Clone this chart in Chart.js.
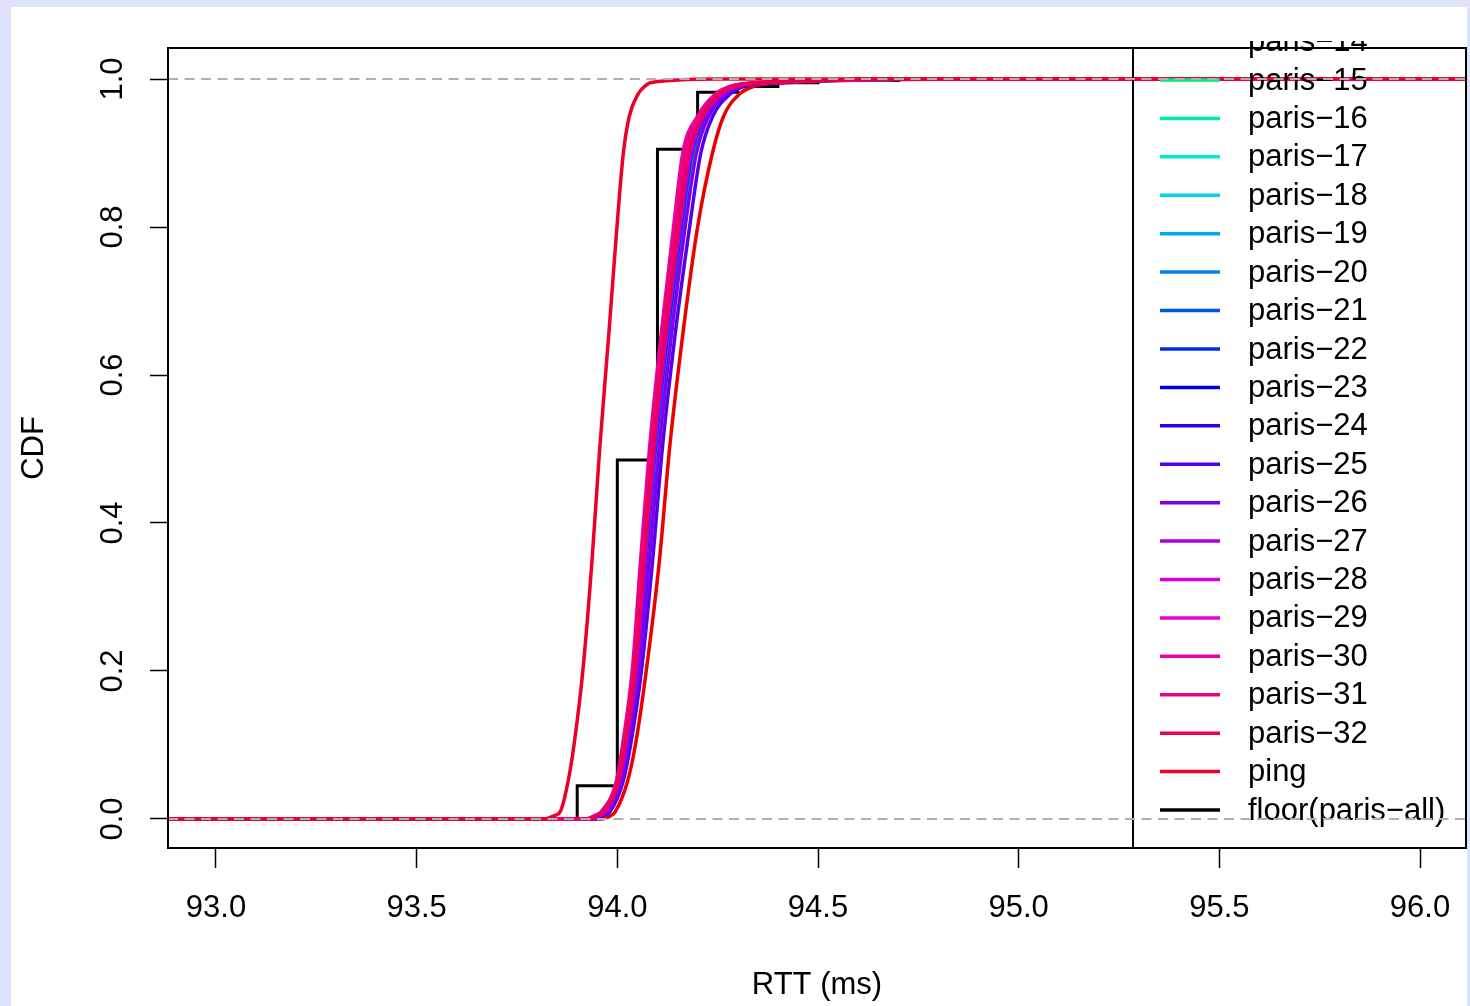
<!DOCTYPE html>
<html>
<head>
<meta charset="utf-8">
<script src="https://cdn.jsdelivr.net/npm/chart.js@4.4.1/dist/chart.umd.min.js"></script>
<style>
  html, body { margin: 0; padding: 0; background: #dee2fa; }
  #panel { position: absolute; left: 11px; top: 7px; width: 1456px; height: 999px; background: #fff; }
  canvas { display: block; }
</style>
</head>
<body>
<div id="panel"><canvas id="cdfChart" width="1456" height="999"></canvas></div>
<script>
// CDF levels shared by every smooth curve (quantiles)
const cdfLevels = [0, 0.005, 0.01, 0.05, 0.1, 0.2, 0.35, 0.5, 0.65, 0.8, 0.9, 0.95, 0.98, 0.99, 0.995, 1];

// RTT (ms) at each CDF level, one array per paris flow
const paris1  = [93.960, 93.985, 93.995, 94.025, 94.045, 94.072, 94.105, 94.130, 94.162, 94.200, 94.237, 94.265, 94.305, 94.340, 94.420, 94.90];
const paris2  = [93.938, 93.960, 93.975, 94.008, 94.025, 94.050, 94.075, 94.098, 94.128, 94.163, 94.190, 94.222, 94.268, 94.300, 94.380, 94.85];
const paris3  = [93.933, 93.956, 93.970, 94.004, 94.020, 94.046, 94.070, 94.093, 94.122, 94.157, 94.183, 94.217, 94.262, 94.295, 94.370, 94.82];
const paris4  = [93.930, 93.953, 93.968, 94.002, 94.019, 94.044, 94.067, 94.090, 94.119, 94.153, 94.180, 94.214, 94.258, 94.292, 94.365, 94.80];
const paris5  = [93.937, 93.959, 93.974, 94.007, 94.024, 94.050, 94.074, 94.097, 94.127, 94.162, 94.189, 94.221, 94.266, 94.301, 94.382, 94.84];
const paris6  = [93.936, 93.959, 93.973, 94.006, 94.024, 94.050, 94.074, 94.097, 94.127, 94.162, 94.189, 94.221, 94.266, 94.300, 94.381, 94.84];
const paris7  = [93.928, 93.951, 93.966, 94.000, 94.017, 94.042, 94.064, 94.087, 94.116, 94.150, 94.176, 94.210, 94.255, 94.290, 94.360, 94.80];
const paris8  = [93.936, 93.958, 93.973, 94.006, 94.023, 94.049, 94.073, 94.096, 94.126, 94.161, 94.188, 94.220, 94.265, 94.300, 94.380, 94.84];
const paris9  = [93.925, 93.949, 93.964, 93.999, 94.015, 94.040, 94.062, 94.084, 94.112, 94.145, 94.170, 94.205, 94.250, 94.285, 94.355, 94.78];
const paris10 = [93.934, 93.957, 93.971, 94.005, 94.021, 94.047, 94.071, 94.094, 94.124, 94.159, 94.186, 94.219, 94.264, 94.298, 94.375, 94.83];
const paris11 = [93.931, 93.954, 93.969, 94.003, 94.020, 94.045, 94.068, 94.091, 94.120, 94.155, 94.182, 94.215, 94.260, 94.294, 94.368, 94.81];
const paris12 = [93.937, 93.959, 93.974, 94.007, 94.024, 94.050, 94.074, 94.097, 94.127, 94.162, 94.189, 94.221, 94.266, 94.301, 94.382, 94.84];
const paris13 = [93.927, 93.950, 93.965, 94.000, 94.016, 94.041, 94.063, 94.086, 94.114, 94.148, 94.174, 94.208, 94.253, 94.288, 94.358, 94.79];
const paris14 = [93.932, 93.955, 93.970, 94.004, 94.021, 94.046, 94.069, 94.092, 94.121, 94.156, 94.184, 94.216, 94.261, 94.296, 94.372, 94.82];
const paris15 = [93.929, 93.952, 93.967, 94.001, 94.018, 94.043, 94.066, 94.089, 94.118, 94.152, 94.178, 94.212, 94.257, 94.291, 94.362, 94.80];
const paris16 = [93.935, 93.957, 93.972, 94.005, 94.022, 94.048, 94.072, 94.095, 94.125, 94.160, 94.187, 94.220, 94.265, 94.299, 94.378, 94.84];
const paris17 = [93.926, 93.950, 93.965, 93.999, 94.016, 94.041, 94.063, 94.085, 94.113, 94.147, 94.172, 94.206, 94.252, 94.287, 94.357, 94.79];
const paris18 = [93.933, 93.956, 93.971, 94.004, 94.021, 94.047, 94.070, 94.093, 94.123, 94.158, 94.185, 94.218, 94.263, 94.297, 94.374, 94.83];
const paris19 = [93.930, 93.953, 93.968, 94.002, 94.019, 94.044, 94.067, 94.090, 94.119, 94.154, 94.181, 94.214, 94.259, 94.293, 94.366, 94.81];
const paris20 = [93.936, 93.958, 93.973, 94.006, 94.023, 94.049, 94.073, 94.096, 94.126, 94.161, 94.188, 94.221, 94.266, 94.300, 94.380, 94.84];
const paris21 = [93.928, 93.951, 93.966, 94.000, 94.017, 94.042, 94.065, 94.088, 94.117, 94.151, 94.177, 94.211, 94.256, 94.290, 94.360, 94.80];
const paris22 = [93.934, 93.957, 93.971, 94.005, 94.022, 94.047, 94.071, 94.094, 94.124, 94.159, 94.186, 94.219, 94.264, 94.298, 94.376, 94.83];
const paris23 = [93.931, 93.954, 93.969, 94.003, 94.020, 94.045, 94.068, 94.091, 94.121, 94.155, 94.182, 94.215, 94.260, 94.294, 94.368, 94.81];
const paris24 = [93.933, 93.956, 93.970, 94.004, 94.021, 94.046, 94.070, 94.093, 94.122, 94.157, 94.184, 94.217, 94.262, 94.296, 94.372, 94.82];
const paris25 = [93.944, 93.968, 93.982, 94.014, 94.033, 94.060, 94.088, 94.112, 94.143, 94.180, 94.208, 94.238, 94.282, 94.316, 94.395, 94.86];
const paris26 = [93.939, 93.962, 93.976, 94.009, 94.027, 94.054, 94.080, 94.104, 94.134, 94.169, 94.197, 94.228, 94.272, 94.306, 94.388, 94.85];
const paris27 = [93.933, 93.956, 93.970, 94.004, 94.021, 94.047, 94.070, 94.093, 94.122, 94.157, 94.184, 94.217, 94.262, 94.297, 94.372, 94.82];
const paris28 = [93.928, 93.951, 93.966, 94.001, 94.017, 94.042, 94.064, 94.087, 94.116, 94.150, 94.175, 94.210, 94.255, 94.290, 94.362, 94.80];
const paris29 = [93.925, 93.949, 93.963, 93.999, 94.015, 94.040, 94.061, 94.084, 94.112, 94.145, 94.170, 94.206, 94.250, 94.286, 94.356, 94.80];
const paris30 = [93.920, 93.945, 93.960, 93.997, 94.013, 94.037, 94.058, 94.080, 94.108, 94.140, 94.163, 94.200, 94.245, 94.280, 94.350, 94.80];
const paris31 = [93.923, 93.947, 93.962, 93.998, 94.014, 94.039, 94.060, 94.083, 94.111, 94.144, 94.168, 94.204, 94.249, 94.284, 94.354, 94.80];
const paris32 = [93.930, 93.953, 93.967, 94.002, 94.019, 94.044, 94.066, 94.089, 94.118, 94.152, 94.178, 94.212, 94.257, 94.292, 94.364, 94.81];

const pingRtt = [93.815, 93.845, 93.858, 93.877, 93.892, 93.914, 93.937, 93.956, 93.978, 93.999, 94.015, 94.030, 94.052, 94.068, 94.082, 94.25];

// floor(paris-all): step CDF
const floorRtt = [93.9, 94.0, 94.1, 94.2, 94.3, 94.4, 94.5, 94.7];
const floorCdf = [0.045, 0.485, 0.905, 0.982, 0.990, 0.995, 0.998, 1.0];

const xTicks = [93.0, 93.5, 94.0, 94.5, 95.0, 95.5, 96.0];
const yTicks = [0.0, 0.2, 0.4, 0.6, 0.8, 1.0];
const refLevels = [0, 1];   // dashed guide lines
const rttMin = 92.8, rttMax = 96.2;  // ecdf plateaus run past the axes

const parisSeries = [paris1, paris2, paris3, paris4, paris5, paris6, paris7, paris8, paris9, paris10,
  paris11, paris12, paris13, paris14, paris15, paris16, paris17, paris18, paris19, paris20,
  paris21, paris22, paris23, paris24, paris25, paris26, paris27, paris28, paris29, paris30,
  paris31, paris32];

// R rainbow(33): paris-1..32 then ping
const nColors = parisSeries.length + 1;
const rainbow = i => `hsl(${(i / nColors) * 360}, 100%, 46%)`;

function curve(rtts) {
  const pts = [{x: rttMin, y: 0}];
  rtts.forEach((r, i) => pts.push({x: r, y: cdfLevels[i]}));
  pts.push({x: rttMax, y: 1});
  return pts;
}

const datasets = [];
parisSeries.forEach((s, i) => {
  datasets.push({
    label: 'paris\u2212' + (i + 1),
    data: curve(s),
    borderColor: rainbow(i),
    borderWidth: 3.5,
    cubicInterpolationMode: 'monotone',
    order: 33 - i
  });
});
datasets.push({
  label: 'ping',
  data: curve(pingRtt),
  borderColor: rainbow(parisSeries.length),
  borderWidth: 3.5,
  cubicInterpolationMode: 'monotone',
  order: 1
});
const floorPts = [{x: rttMin, y: 0}];
floorRtt.forEach((r, i) => floorPts.push({x: r, y: floorCdf[i]}));
floorPts.push({x: rttMax, y: 1});
datasets.push({
  label: 'floor(paris\u2212all)',
  data: floorPts,
  borderColor: '#000',
  borderWidth: 3,
  stepped: true,
  order: 40
});

// legend (clipped by the plot region like the R original), guides and frame
const overlay = {
  id: 'overlay',
  afterDatasetsDraw(chart) {
    const {ctx, chartArea: a, scales: {y}} = chart;
    const w = a.right - a.left, h = a.bottom - a.top;
    const boxLeft = a.right - 333;
    const rowH = 38.42;
    const items = chart.data.datasets;

    ctx.save();
    ctx.beginPath();
    ctx.rect(a.left, a.top, w, h);
    ctx.clip();
    ctx.strokeStyle = '#000';
    ctx.lineWidth = 2;
    ctx.beginPath();
    ctx.moveTo(boxLeft, a.top);
    ctx.lineTo(boxLeft, a.bottom);
    ctx.stroke();
    items.forEach((d, k) => {
      const ry = a.bottom - 38 - (items.length - 1 - k) * rowH;
      ctx.strokeStyle = d.borderColor;
      ctx.lineWidth = 3.5;
      ctx.beginPath();
      ctx.moveTo(boxLeft + 27, ry);
      ctx.lineTo(boxLeft + 87, ry);
      ctx.stroke();
    });
    ctx.restore();

    ctx.save();
    ctx.beginPath();
    ctx.rect(a.left, a.top - 7, w, h + 7);
    ctx.clip();
    ctx.fillStyle = '#000';
    ctx.font = '31px "Liberation Sans", Arial, sans-serif';
    ctx.textBaseline = 'middle';
    ctx.textAlign = 'left';
    items.forEach((d, k) => {
      const ry = a.bottom - 38 - (items.length - 1 - k) * rowH;
      ctx.fillText(d.label, boxLeft + 115, ry + 1);
    });
    ctx.restore();

    ctx.save();
    ctx.strokeStyle = '#b0b0b0';
    ctx.lineWidth = 2;
    ctx.setLineDash([10, 6.5]);
    refLevels.forEach(v => {
      const py = y.getPixelForValue(v);
      ctx.beginPath();
      ctx.moveTo(a.left, py);
      ctx.lineTo(a.right, py);
      ctx.stroke();
    });
    ctx.setLineDash([]);
    ctx.strokeStyle = '#000';
    ctx.lineWidth = 2;
    ctx.strokeRect(a.left, a.top, w, h);
    ctx.restore();
  }
};

Chart.defaults.color = '#000';
Chart.defaults.font.family = '"Liberation Sans", Arial, sans-serif';

const ctx = document.getElementById('cdfChart').getContext('2d');
new Chart(ctx, {
  type: 'scatter',
  data: { datasets: datasets },
  options: {
    responsive: false,
    animation: false,
    showLine: true,
    elements: { point: { radius: 0, hoverRadius: 0 } },
    layout: { padding: { top: 41, right: 1, left: 0, bottom: 0 } },
    plugins: { legend: { display: false }, tooltip: { enabled: false } },
    scales: {
      x: {
        type: 'linear',
        min: 92.8804,
        max: 96.1146,
        afterBuildTicks: axis => { axis.ticks = xTicks.map(v => ({value: v})); },
        afterFit: axis => { axis.height = 158; axis.paddingLeft = 0; axis.paddingRight = 0; },
        grid: { drawOnChartArea: false, drawTicks: true, tickLength: 20, tickColor: '#000', tickWidth: 1.5 },
        border: { display: false },
        ticks: { font: { size: 31 }, padding: 22, maxRotation: 0, callback: v => v.toFixed(1) },
        title: { display: true, text: 'RTT (ms)', font: { size: 31 }, padding: { top: 0, bottom: 2 } }
      },
      y: {
        type: 'linear',
        min: -0.0392,
        max: 1.0419,
        afterBuildTicks: axis => { axis.ticks = yTicks.map(v => ({value: v})); },
        afterFit: axis => { axis.width = 157; axis.paddingTop = 0; axis.paddingBottom = 0; },
        grid: { drawOnChartArea: false, drawTicks: true, tickLength: 18, tickColor: '#000', tickWidth: 1.5 },
        border: { display: false },
        ticks: { font: { size: 31 }, padding: 15, minRotation: 90, maxRotation: 90, crossAlign: 'center', callback: v => v.toFixed(1) },
        title: { display: true, text: 'CDF', font: { size: 31 }, padding: { top: 5, bottom: 0 } }
      }
    }
  },
  plugins: [overlay]
});
</script>
</body>
</html>
